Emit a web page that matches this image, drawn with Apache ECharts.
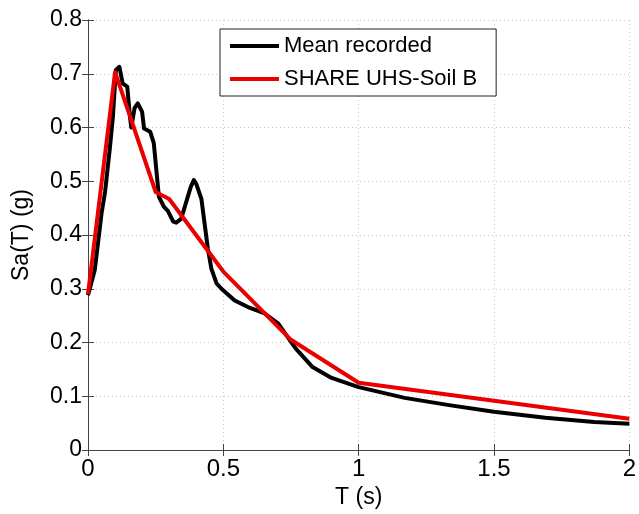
<!DOCTYPE html>
<html>
<head>
<meta charset="utf-8">
<script src="https://cdn.jsdelivr.net/npm/echarts@6/dist/echarts.min.js"></script>
<style>
html,body{margin:0;padding:0;background:#fff;}
#chart{width:639px;height:514px;}
</style>
</head>
<body>
<div id="chart"></div>
<script>
// Mean recorded spectrum
var recordedT = [0, 0.025, 0.05, 0.063, 0.08, 0.092, 0.103, 0.116, 0.128, 0.145, 0.155, 0.16, 0.172, 0.184, 0.2, 0.207, 0.23, 0.243, 0.262, 0.28, 0.295, 0.315, 0.326, 0.344, 0.365, 0.38, 0.391, 0.4, 0.419, 0.443, 0.456, 0.475, 0.493, 0.542, 0.591, 0.653, 0.703, 0.767, 0.828, 0.9, 1.0, 1.17, 1.34, 1.5, 1.69, 1.87, 2.0];
var recordedSa = [0.288, 0.335, 0.44, 0.48, 0.558, 0.62, 0.707, 0.713, 0.682, 0.676, 0.62, 0.60, 0.636, 0.645, 0.629, 0.598, 0.592, 0.571, 0.471, 0.453, 0.445, 0.425, 0.423, 0.43, 0.465, 0.49, 0.502, 0.495, 0.467, 0.374, 0.337, 0.31, 0.30, 0.278, 0.266, 0.254, 0.235, 0.189, 0.155, 0.134, 0.117, 0.097, 0.083, 0.071, 0.060, 0.052, 0.049];
// SHARE UHS - Soil B
var shareT = [0, 0.1, 0.25, 0.3, 0.5, 0.75, 1.0, 2.0];
var shareSa = [0.29, 0.703, 0.48, 0.467, 0.332, 0.205, 0.125, 0.058];
var seriesNames = ['Mean recorded', 'SHARE UHS-Soil B'];
var xTicks = [0, 0.5, 1, 1.5, 2];
var yTicks = [0, 0.1, 0.2, 0.3, 0.4, 0.5, 0.6, 0.7, 0.8];

function pairs(xs, ys) { return xs.map(function (x, i) { return [x, ys[i]]; }); }

var FONT = '"Liberation Sans", Arial, sans-serif';
var chart = echarts.init(document.getElementById('chart'), null, {renderer: 'canvas'});
var frameColor = '#444';
var option = {
  backgroundColor: '#fff',
  animation: false,
  grid: {left: 88, right: 7, top: 20, bottom: 64},
  legend: {
    orient: 'vertical',
    left: 220, top: 29,
    padding: [4, 19, 4, 10],
    itemGap: 7,
    itemWidth: 49,
    itemHeight: 4,
    icon: 'rect',
    borderColor: '#222', borderWidth: 1,
    backgroundColor: '#fff',
    textStyle: {fontFamily: FONT, fontSize: 22, color: '#000', lineHeight: 26, padding: [0, 0, 0, 0]},
    data: seriesNames
  },
  xAxis: [{
    type: 'value', min: xTicks[0], max: xTicks[xTicks.length - 1], interval: 0.5,
    name: 'T (s)', nameLocation: 'middle', nameGap: 31,
    nameTextStyle: {fontFamily: FONT, fontSize: 23, color: '#000'},
    axisLine: {show: true, onZero: false, lineStyle: {color: frameColor, width: 1}},
    axisTick: {show: true, inside: true, length: 6, lineStyle: {color: frameColor}},
    axisLabel: {fontFamily: FONT, fontSize: 24, color: '#000', margin: 7},
    splitLine: {show: true, lineStyle: {color: '#c8c8c8', type: [1, 3], width: 1}}
  }, {
    type: 'value', position: 'top', min: 0, max: 2, interval: 0.5,
    axisLine: {show: true, lineStyle: {color: frameColor, width: 1}},
    axisTick: {show: true, inside: true, length: 6, lineStyle: {color: frameColor}},
    axisLabel: {show: false}, splitLine: {show: false}
  }],
  yAxis: [{
    type: 'value', min: yTicks[0], max: yTicks[yTicks.length - 1], interval: 0.1,
    name: 'Sa(T) (g)', nameLocation: 'middle', nameGap: 55, nameRotate: 90,
    nameTextStyle: {fontFamily: FONT, fontSize: 23, color: '#000'},
    axisLine: {show: true, onZero: false, lineStyle: {color: frameColor, width: 1}},
    axisTick: {show: true, inside: true, length: 6, lineStyle: {color: frameColor}},
    axisLabel: {fontFamily: FONT, fontSize: 23, color: '#000', margin: 6},
    splitLine: {show: true, lineStyle: {color: '#c8c8c8', type: [1, 3], width: 1}}
  }, {
    type: 'value', position: 'right', min: 0, max: 0.8, interval: 0.1,
    axisLine: {show: true, lineStyle: {color: frameColor, width: 1}},
    axisTick: {show: true, inside: true, length: 6, lineStyle: {color: frameColor}},
    axisLabel: {show: false}, splitLine: {show: false}
  }],
  series: [{
    name: seriesNames[0], type: 'line', showSymbol: false,
    data: pairs(recordedT, recordedSa),
    lineStyle: {color: '#000', width: 4, join: 'round'},
    itemStyle: {color: '#000'}
  }, {
    name: seriesNames[1], type: 'line', showSymbol: false,
    data: pairs(shareT, shareSa),
    lineStyle: {color: '#ea0000', width: 4, join: 'round'},
    itemStyle: {color: '#ea0000'}
  }]
};
chart.setOption(option);
</script>
</body>
</html>
